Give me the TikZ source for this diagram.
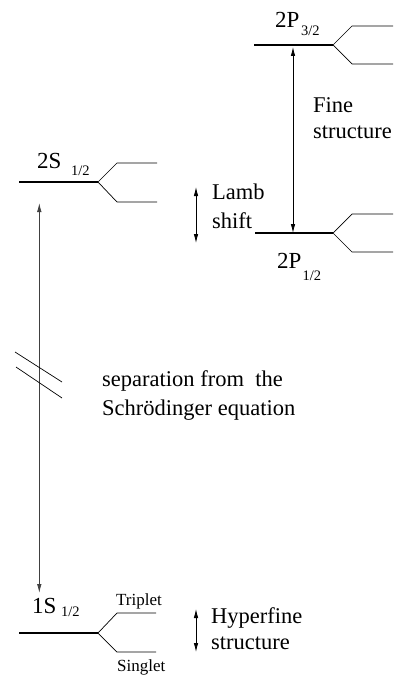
\documentclass[tikz,border=0pt]{standalone}
\usepackage{fontspec}
\setmainfont{Liberation Serif}
\usetikzlibrary{arrows.meta}
\begin{document}
\begin{tikzpicture}[x=1pt,y=-1pt,
  level/.style={line width=2.6pt},
  split/.style={line width=0.7pt},
  dbl/.style={line width=0.8pt,{Latex[length=9pt,width=4.5pt]}-{Latex[length=9pt,width=4.5pt]}},
  lbl/.style={anchor=base west,inner sep=0pt,font=\fontsize{23}{23}\selectfont},
  sub/.style={anchor=base west,inner sep=0pt,font=\fontsize{14.5}{14.5}\selectfont},
  txt/.style={anchor=base west,inner sep=0pt,font=\fontsize{22.5}{22.5}\selectfont},
  small/.style={anchor=base west,inner sep=0pt,font=\fontsize{17}{17}\selectfont}]
\useasboundingbox (0,0) rectangle (397,677);
% level coordinates
\coordinate (p3a) at (254,45);   \coordinate (p3b) at (333,45);
\coordinate (p3u) at (352,26);   \coordinate (p3ue) at (393,26);
\coordinate (p3l) at (352,64);   \coordinate (p3le) at (393,64);
\coordinate (p1a) at (255,233);  \coordinate (p1b) at (333,233);
\coordinate (p1u) at (352,214);  \coordinate (p1ue) at (393,214);
\coordinate (p1l) at (352,252);  \coordinate (p1le) at (393,252);
\coordinate (s2a) at (19,182);   \coordinate (s2b) at (98,182);
\coordinate (s2u) at (117,163);  \coordinate (s2ue) at (157,163);
\coordinate (s2l) at (117,202);  \coordinate (s2le) at (157,202);
\coordinate (s1a) at (19,633);   \coordinate (s1b) at (98,633);
\coordinate (s1u) at (117,613);  \coordinate (s1ue) at (156,613);
\coordinate (s1l) at (117,652);  \coordinate (s1le) at (156,652);
% levels
\draw[level] (p3a) -- (p3b);
\draw[split] (p3ue) -- (p3u) -- (p3b) -- (p3l) -- (p3le);
\draw[level] (p1a) -- (p1b);
\draw[split] (p1ue) -- (p1u) -- (p1b) -- (p1l) -- (p1le);
\draw[level] (s2a) -- (s2b);
\draw[split] (s2ue) -- (s2u) -- (s2b) -- (s2l) -- (s2le);
\draw[level] (s1a) -- (s1b);
\draw[split] (s1ue) -- (s1u) -- (s1b) -- (s1l) -- (s1le);
% labels
\node[lbl] (l2p3) at (275,28) {2P};
\node[sub] (l2p3s) at (301,36) {3/2};
\node[lbl] (l2p1) at (277,268) {2P};
\node[sub] (l2p1s) at (302.5,280) {1/2};
\node[lbl] (l2s) at (37,168) {2S};
\node[sub] (l2ss) at (71,175) {1/2};
\node[lbl] (l1s) at (32,613) {1S};
\node[sub] (l1ss) at (61,616) {1/2};
\node[small] (trip) at (116,605) {Triplet};
\node[small] (sing) at (117,671) {Singlet};
% arrows
\coordinate (fa) at (293,47);  \coordinate (fb) at (293,233);
\draw[dbl] (fa) -- (fb);
\coordinate (la) at (196,187); \coordinate (lb) at (196,243);
\draw[dbl] (la) -- (lb);
\coordinate (ha) at (196,609); \coordinate (hb) at (196,652);
\draw[dbl] (ha) -- (hb);
\coordinate (ma) at (39.3,203); \coordinate (mb) at (39.3,593);
\draw[dbl,draw=black!75] (ma) -- (mb);
% break marks
\coordinate (k1a) at (15,352); \coordinate (k1b) at (62,382);
\coordinate (k2a) at (16,367); \coordinate (k2b) at (62,398);
\draw[split] (k1a) -- (k1b);
\draw[split] (k2a) -- (k2b);
% texts
\node[txt] (fine1) at (313,112) {Fine};
\node[txt] (fine2) at (313,138) {structure};
\node[txt] (lamb1) at (212,199) {Lamb};
\node[txt] (lamb2) at (212,228) {shift};
\node[txt] (sep1) at (102,386) {separation from\ \ the};
\node[txt] (sep2) at (102,415) {Schrödinger equation};
\node[txt] (hyp1) at (211,623) {Hyperfine};
\node[txt] (hyp2) at (211,649) {structure};
\end{tikzpicture}
\end{document}
